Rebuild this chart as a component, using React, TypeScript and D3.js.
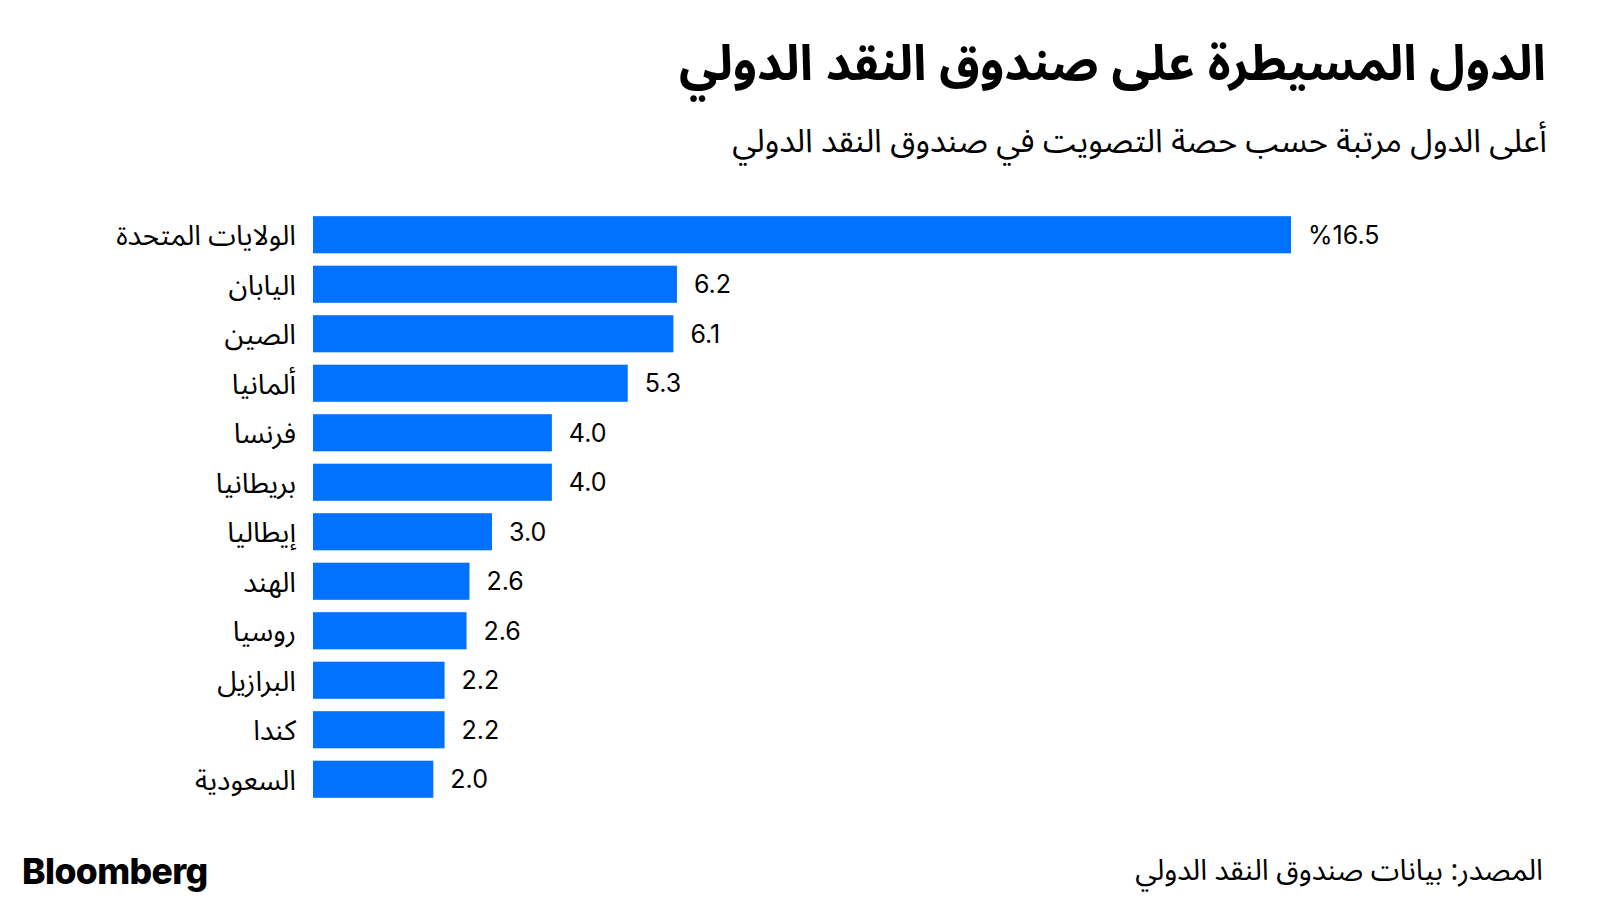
import React from "react";
import * as d3 from "d3";

const countries = [
  "الولايات المتحدة",
  "اليابان",
  "الصين",
  "ألمانيا",
  "فرنسا",
  "بريطانيا",
  "إيطاليا",
  "الهند",
  "روسيا",
  "البرازيل",
  "كندا",
  "السعودية",
];
const voteShare = [16.5, 6.14, 6.08, 5.31, 4.03, 4.03, 3.02, 2.64, 2.59, 2.22, 2.22, 2.03];
const valueLabels = ["%16.5", "6.2", "6.1", "5.3", "4.0", "4.0", "3.0", "2.6", "2.6", "2.2", "2.2", "2.0"];

const title = "الدول المسيطرة على صندوق النقد الدولي";
const subtitle = "أعلى الدول مرتبة حسب حصة التصويت في صندوق النقد الدولي";
const source = "المصدر: بيانات صندوق النقد الدولي";

const W = 1600;
const H = 900;
const arabicFont = "'Noto Sans Arabic', 'Noto Sans', 'DejaVu Sans', sans-serif";
const latinFont = "Inter, 'Helvetica Neue', Arial, sans-serif";

export default function App() {
  const x = d3.scaleLinear().domain([0, 16.5]).range([313, 1291]);
  const y = d3
    .scaleBand<string>()
    .domain(countries)
    .range([210, 804])
    .paddingInner(0.25)
    .paddingOuter(0.125);

  return (
    <svg
      width={W}
      height={H}
      style={{ position: "absolute", left: 0, top: 0, background: "#fff" }}
    >
      <text
        x={1546}
        y={80}
        direction="rtl"
        textAnchor="start"
        fontFamily={arabicFont}
        fontWeight={700}
        fontSize={49}
        fill="#000"
      >
        {title}
      </text>
      <text
        x={1547}
        y={152}
        direction="rtl"
        textAnchor="start"
        fontFamily={arabicFont}
        fontSize={32.5}
        fill="#000"
      >
        {subtitle}
      </text>

      {countries.map((c, i) => {
        const yy = y(c)!;
        const bw = y.bandwidth();
        return (
          <g key={c}>
            <rect x={x(0)} y={yy} width={x(voteShare[i]) - x(0)} height={bw} fill="#0072ff" />
            <text
              x={296}
              y={yy + bw / 2}
              dy="0.38em"
              direction="rtl"
              textAnchor="start"
              fontFamily={arabicFont}
              fontSize={28}
              fill="#000"
            >
              {c}
            </text>
            <text
              x={x(voteShare[i]) + 17}
              y={yy + bw / 2}
              dy="0.36em"
              textAnchor="start"
              fontFamily={latinFont}
              fontSize={25}
              fill="#000"
            >
              {valueLabels[i]}
            </text>
          </g>
        );
      })}

      <text
        x={22}
        y={884}
        fontFamily={latinFont}
        fontWeight={800}
        fontSize={35.5}
        letterSpacing={-0.6}
        fill="#000"
      >
        Bloomberg
      </text>
      <text
        x={1543}
        y={880}
        direction="rtl"
        textAnchor="start"
        fontFamily={arabicFont}
        fontSize={29}
        fill="#000"
      >
        {source}
      </text>
    </svg>
  );
}
